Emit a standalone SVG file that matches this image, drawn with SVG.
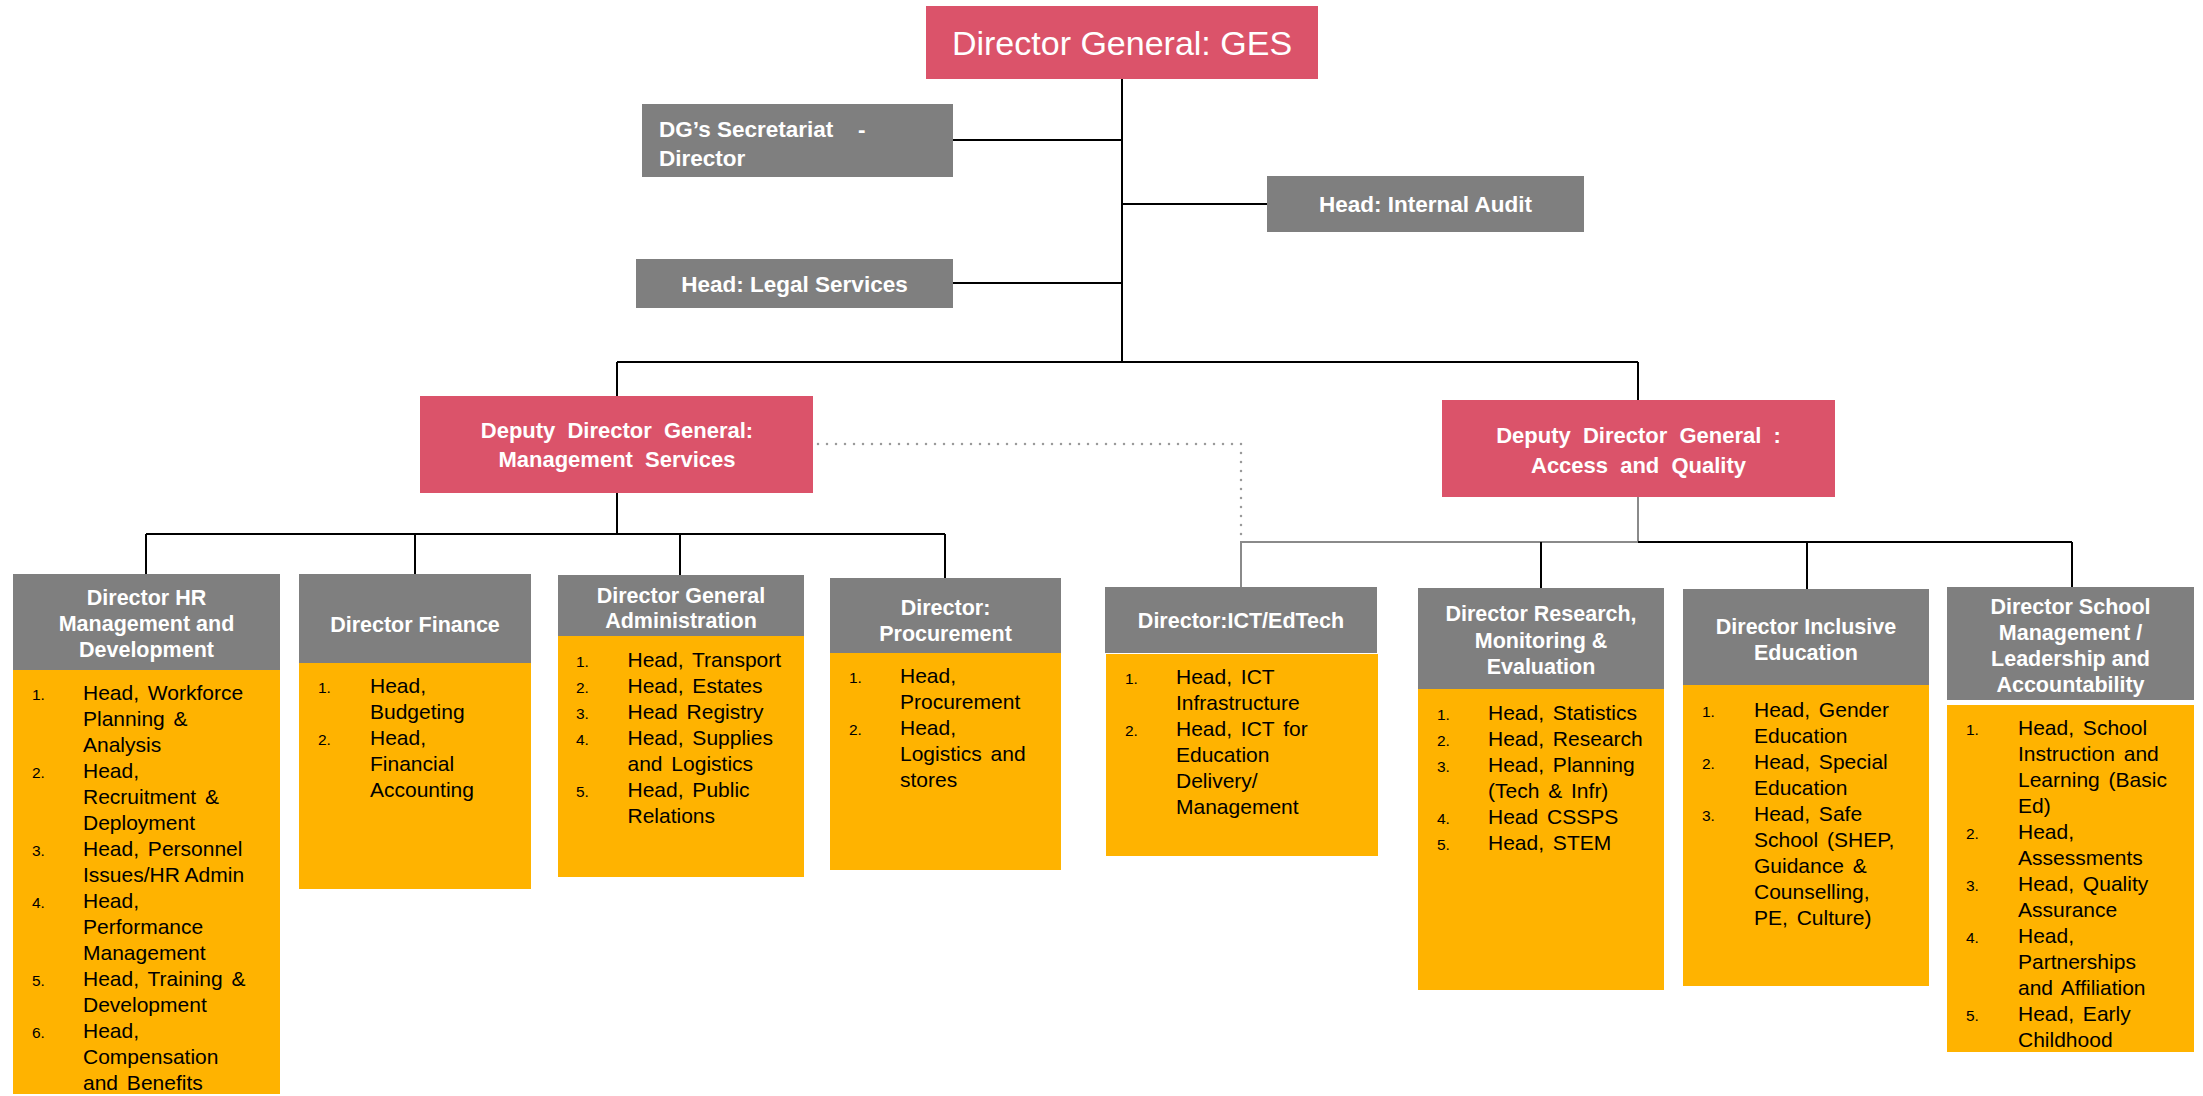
<svg xmlns="http://www.w3.org/2000/svg" width="2203" height="1096" viewBox="0 0 2203 1096">
<style>
text{font-family:"Liberation Sans",Arial,sans-serif}
.pink{fill:#DB536A}
.gray{fill:#7F7F7F}
.yel{fill:#FFB300}
.ht{fill:#fff;font-weight:bold;font-size:21.5px;text-anchor:middle}
.st{fill:#fff;font-weight:bold;font-size:22.5px}
.dt{fill:#fff;font-weight:bold;font-size:22px;text-anchor:middle;word-spacing:6px}
.bt{fill:#000;font-size:21px;word-spacing:3px}
.nt{fill:#000;font-size:15.5px}
.ln{stroke:#000;stroke-width:2;fill:none}
.lg{stroke:#8a8a8a;stroke-width:2;fill:none}
.ld{stroke:#9a9a9a;stroke-width:2.5;fill:none;stroke-dasharray:0 9;stroke-linecap:round}
</style>
<rect width="2203" height="1096" fill="#fff"/>
<g id="connectors">
<path class="ln" d="M1122 79V362M953 140H1122M1122 204H1267M953 283H1122M617 362H1638M617 362V396M1638 362V400"/>
<path class="ln" d="M617 493V534M146 534H945M146 534V574M415 534V574M680 534V575M945 534V578"/>
<path class="lg" d="M1638 497V542H1241V587"/>
<path class="ln" d="M1638 542H2072M1541 542V588M1807 542V589M2072 542V587"/>
<path class="ld" d="M818 444H1241V538"/>
</g>
<g id="dg">
<rect class="pink" x="926" y="6" width="392" height="73"/>
<text x="1122" y="55" fill="#fff" font-size="34" text-anchor="middle">Director General: GES</text>
</g>
<g id="secretariat">
<rect class="gray" x="642" y="104" width="311" height="73"/>
<text class="st" x="659" y="137">DG’s Secretariat</text>
<text class="st" x="858" y="137">-</text>
<text class="st" x="659" y="166">Director</text>
</g>
<g id="audit">
<rect class="gray" x="1267" y="176" width="317" height="56"/>
<text class="st" x="1425.5" y="212" text-anchor="middle" font-size="21.5">Head: Internal Audit</text>
</g>
<g id="legal">
<rect class="gray" x="636" y="259" width="317" height="49"/>
<text class="st" x="794.5" y="292" text-anchor="middle">Head: Legal Services</text>
</g>
<g id="ddg-ms">
<rect class="pink" x="420" y="396" width="393" height="97"/>
<text class="dt" x="617" y="438">Deputy Director General:</text>
<text class="dt" x="617" y="467">Management Services</text>
</g>
<g id="ddg-aq">
<rect class="pink" x="1442" y="400" width="393" height="97"/>
<text class="dt" x="1638.5" y="443">Deputy Director General :</text>
<text class="dt" x="1638.5" y="473">Access and Quality</text>
</g>
<g id="hr">
<rect class="gray" x="13" y="574" width="267" height="96"/>
<rect class="yel" x="13" y="670" width="267" height="424"/>
<text class="ht" x="146.5" y="605">Director HR</text>
<text class="ht" x="146.5" y="631">Management and</text>
<text class="ht" x="146.5" y="657">Development</text>
<text class="nt" x="32" y="700">1.</text><text class="nt" x="32" y="778">2.</text><text class="nt" x="32" y="856">3.</text><text class="nt" x="32" y="908">4.</text><text class="nt" x="32" y="986">5.</text><text class="nt" x="32" y="1038">6.</text>
<text class="bt" x="83" y="700">Head, Workforce</text>
<text class="bt" x="83" y="726">Planning &amp;</text>
<text class="bt" x="83" y="752">Analysis</text>
<text class="bt" x="83" y="778">Head,</text>
<text class="bt" x="83" y="804">Recruitment &amp;</text>
<text class="bt" x="83" y="830">Deployment</text>
<text class="bt" x="83" y="856">Head, Personnel</text>
<text class="bt" x="83" y="882" style="word-spacing:0">Issues/HR Admin</text>
<text class="bt" x="83" y="908">Head,</text>
<text class="bt" x="83" y="934">Performance</text>
<text class="bt" x="83" y="960">Management</text>
<text class="bt" x="83" y="986">Head, Training &amp;</text>
<text class="bt" x="83" y="1012">Development</text>
<text class="bt" x="83" y="1038">Head,</text>
<text class="bt" x="83" y="1064">Compensation</text>
<text class="bt" x="83" y="1090">and Benefits</text>
</g>
<g id="finance">
<rect class="gray" x="299" y="574" width="232" height="89"/>
<rect class="yel" x="299" y="663" width="232" height="226"/>
<text class="ht" x="415" y="632">Director Finance</text>
<text class="nt" x="318" y="693">1.</text><text class="nt" x="318" y="745">2.</text>
<text class="bt" x="370" y="693">Head,</text>
<text class="bt" x="370" y="719">Budgeting</text>
<text class="bt" x="370" y="745">Head,</text>
<text class="bt" x="370" y="771">Financial</text>
<text class="bt" x="370" y="797">Accounting</text>
</g>
<g id="general-admin">
<rect class="gray" x="558" y="575" width="246" height="61"/>
<rect class="yel" x="558" y="636" width="246" height="241"/>
<text class="ht" x="681" y="603">Director General</text>
<text class="ht" x="681" y="628">Administration</text>
<text class="nt" x="576" y="667">1.</text><text class="nt" x="576" y="693">2.</text><text class="nt" x="576" y="719">3.</text><text class="nt" x="576" y="745">4.</text><text class="nt" x="576" y="797">5.</text>
<text class="bt" x="627.5" y="667">Head, Transport</text>
<text class="bt" x="627.5" y="693">Head, Estates</text>
<text class="bt" x="627.5" y="719">Head Registry</text>
<text class="bt" x="627.5" y="745">Head, Supplies</text>
<text class="bt" x="627.5" y="771">and Logistics</text>
<text class="bt" x="627.5" y="797">Head, Public</text>
<text class="bt" x="627.5" y="823">Relations</text>
</g>
<g id="procurement">
<rect class="gray" x="830" y="578" width="231" height="75"/>
<rect class="yel" x="830" y="653" width="231" height="217"/>
<text class="ht" x="945.5" y="615">Director:</text>
<text class="ht" x="945.5" y="641">Procurement</text>
<text class="nt" x="849" y="683">1.</text><text class="nt" x="849" y="735">2.</text>
<text class="bt" x="900" y="683">Head,</text>
<text class="bt" x="900" y="709">Procurement</text>
<text class="bt" x="900" y="735">Head,</text>
<text class="bt" x="900" y="761">Logistics and</text>
<text class="bt" x="900" y="787">stores</text>
</g>
<g id="ict">
<rect class="gray" x="1105" y="587" width="272" height="66"/>
<rect class="yel" x="1106" y="654" width="272" height="202"/>
<text class="ht" x="1241" y="628">Director:ICT/EdTech</text>
<text class="nt" x="1125" y="684">1.</text><text class="nt" x="1125" y="736">2.</text>
<text class="bt" x="1176" y="684">Head, ICT</text>
<text class="bt" x="1176" y="710">Infrastructure</text>
<text class="bt" x="1176" y="736">Head, ICT for</text>
<text class="bt" x="1176" y="762">Education</text>
<text class="bt" x="1176" y="788">Delivery/</text>
<text class="bt" x="1176" y="814">Management</text>
</g>
<g id="research">
<rect class="gray" x="1418" y="588" width="246" height="101"/>
<rect class="yel" x="1418" y="689" width="246" height="301"/>
<text class="ht" x="1541" y="621">Director Research,</text>
<text class="ht" x="1541" y="648">Monitoring &amp;</text>
<text class="ht" x="1541" y="674">Evaluation</text>
<text class="nt" x="1437" y="720">1.</text><text class="nt" x="1437" y="746">2.</text><text class="nt" x="1437" y="772">3.</text><text class="nt" x="1437" y="824">4.</text><text class="nt" x="1437" y="850">5.</text>
<text class="bt" x="1488" y="720">Head, Statistics</text>
<text class="bt" x="1488" y="746">Head, Research</text>
<text class="bt" x="1488" y="772">Head, Planning</text>
<text class="bt" x="1488" y="798">(Tech &amp; Infr)</text>
<text class="bt" x="1488" y="824">Head CSSPS</text>
<text class="bt" x="1488" y="850">Head, STEM</text>
</g>
<g id="inclusive">
<rect class="gray" x="1683" y="589" width="246" height="96"/>
<rect class="yel" x="1683" y="685" width="246" height="301"/>
<text class="ht" x="1806" y="634">Director Inclusive</text>
<text class="ht" x="1806" y="660">Education</text>
<text class="nt" x="1702" y="717">1.</text><text class="nt" x="1702" y="769">2.</text><text class="nt" x="1702" y="821">3.</text>
<text class="bt" x="1754" y="717">Head, Gender</text>
<text class="bt" x="1754" y="743">Education</text>
<text class="bt" x="1754" y="769">Head, Special</text>
<text class="bt" x="1754" y="795">Education</text>
<text class="bt" x="1754" y="821">Head, Safe</text>
<text class="bt" x="1754" y="847">School (SHEP,</text>
<text class="bt" x="1754" y="873">Guidance &amp;</text>
<text class="bt" x="1754" y="899">Counselling,</text>
<text class="bt" x="1754" y="925">PE, Culture)</text>
</g>
<g id="school-mgmt">
<rect class="gray" x="1947" y="587" width="247" height="113"/>
<rect class="yel" x="1947" y="705" width="247" height="347"/>
<text class="ht" x="2070.5" y="614">Director School</text>
<text class="ht" x="2070.5" y="640">Management /</text>
<text class="ht" x="2070.5" y="666">Leadership and</text>
<text class="ht" x="2070.5" y="692">Accountability</text>
<text class="nt" x="1966" y="735">1.</text><text class="nt" x="1966" y="839">2.</text><text class="nt" x="1966" y="891">3.</text><text class="nt" x="1966" y="943">4.</text><text class="nt" x="1966" y="1021">5.</text>
<text class="bt" x="2018" y="735">Head, School</text>
<text class="bt" x="2018" y="761">Instruction and</text>
<text class="bt" x="2018" y="787">Learning (Basic</text>
<text class="bt" x="2018" y="813">Ed)</text>
<text class="bt" x="2018" y="839">Head,</text>
<text class="bt" x="2018" y="865">Assessments</text>
<text class="bt" x="2018" y="891">Head, Quality</text>
<text class="bt" x="2018" y="917">Assurance</text>
<text class="bt" x="2018" y="943">Head,</text>
<text class="bt" x="2018" y="969">Partnerships</text>
<text class="bt" x="2018" y="995">and Affiliation</text>
<text class="bt" x="2018" y="1021">Head, Early</text>
<text class="bt" x="2018" y="1047">Childhood</text>
</g>
</svg>
